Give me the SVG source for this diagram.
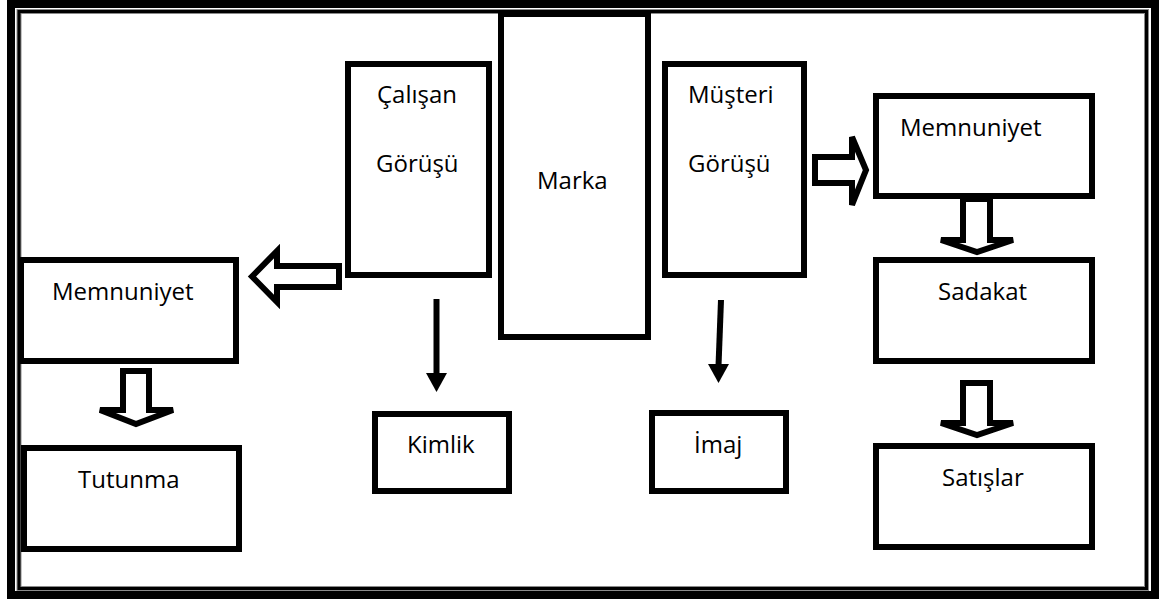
<svg xmlns="http://www.w3.org/2000/svg" width="1163" height="599" viewBox="0 0 1163 599">
  <style>
    .box { fill: #ffffff; stroke: #000000; stroke-width: 6; }
    .label { font-family: "Open Sans", "Noto Sans", sans-serif; font-size: 24px; fill: #000000; }
    .block { fill: #ffffff; stroke: #000000; stroke-width: 6; stroke-linejoin: miter; }
    .thin { stroke: #000000; stroke-width: 6; fill: none; }
    .head { fill: #000000; stroke: none; }
  </style>

  <!-- page background and double frame -->
  <rect x="0" y="0" width="1163" height="599" fill="#ffffff"/>
  <rect x="11" y="4" width="1144" height="591" fill="none" stroke="#000000" stroke-width="8"/>
  <rect x="19" y="11.5" width="1127.5" height="577" fill="none" stroke="#8a8a8a" stroke-width="5"/>
  <rect x="19" y="11.5" width="1127.5" height="577" fill="none" stroke="#000000" stroke-width="3"/>

  <!-- connectors -->
  <g id="connectors">
    <!-- Çalışan Görüşü -> Memnuniyet (left) -->
    <polygon class="block" points="252,276.5 277,251 277,266 339,266 339,287 277,287 277,302"/>
    <!-- Müşteri Görüşü -> Memnuniyet (right) -->
    <polygon class="block" points="815,157 852,157 852,137 866,170 852,205 852,183 815,183"/>
    <!-- Memnuniyet -> Sadakat -->
    <polygon class="block" points="963,199 990,199 990,240 1013,240 977,252 941,240 963,240"/>
    <!-- Sadakat -> Satışlar -->
    <polygon class="block" points="963,383 990,383 990,423 1013,423 977,435 941,423 963,423"/>
    <!-- Memnuniyet -> Tutunma -->
    <polygon class="block" points="123,371 149,371 149,410 173,410 136,424 100,410 123,410"/>
    <!-- Çalışan Görüşü -> Kimlik -->
    <line class="thin" x1="436.5" y1="299" x2="436.5" y2="375"/>
    <polygon class="head" points="426,373 447,373 436.5,392"/>
    <!-- Müşteri Görüşü -> İmaj -->
    <line class="thin" x1="721" y1="300" x2="718.5" y2="366"/>
    <polygon class="head" points="708,364 729,364 718.5,383"/>
  </g>

  <g id="calisan">
    <rect class="box" x="348" y="64" width="141" height="211"/>
    <text class="label" x="377" y="103">Çalışan</text>
    <text class="label" x="376" y="172">Görüşü</text>
  </g>

  <g id="marka">
    <rect class="box" x="501" y="14" width="147" height="323"/>
    <text class="label" x="537" y="189">Marka</text>
  </g>

  <g id="musteri">
    <rect class="box" x="665" y="64" width="139" height="211"/>
    <text class="label" x="688" y="103">Müşteri</text>
    <text class="label" x="688" y="172">Görüşü</text>
  </g>

  <g id="memnuniyet-sag">
    <rect class="box" x="876" y="96" width="216" height="100"/>
    <text class="label" x="900" y="136">Memnuniyet</text>
  </g>

  <g id="sadakat">
    <rect class="box" x="876" y="260" width="216" height="101"/>
    <text class="label" x="938" y="300">Sadakat</text>
  </g>

  <g id="satislar">
    <rect class="box" x="876" y="446" width="216" height="101"/>
    <text class="label" x="942" y="486">Satışlar</text>
  </g>

  <g id="memnuniyet-sol">
    <rect class="box" x="21" y="260" width="215" height="101"/>
    <text class="label" x="52" y="300">Memnuniyet</text>
  </g>

  <g id="tutunma">
    <rect class="box" x="24" y="448" width="215" height="101"/>
    <text class="label" x="78" y="488">Tutunma</text>
  </g>

  <g id="kimlik">
    <rect class="box" x="375" y="414" width="134" height="77"/>
    <text class="label" x="407" y="453">Kimlik</text>
  </g>

  <g id="imaj">
    <rect class="box" x="652" y="413" width="134" height="78"/>
    <text class="label" x="694" y="453">İmaj</text>
  </g>
</svg>
